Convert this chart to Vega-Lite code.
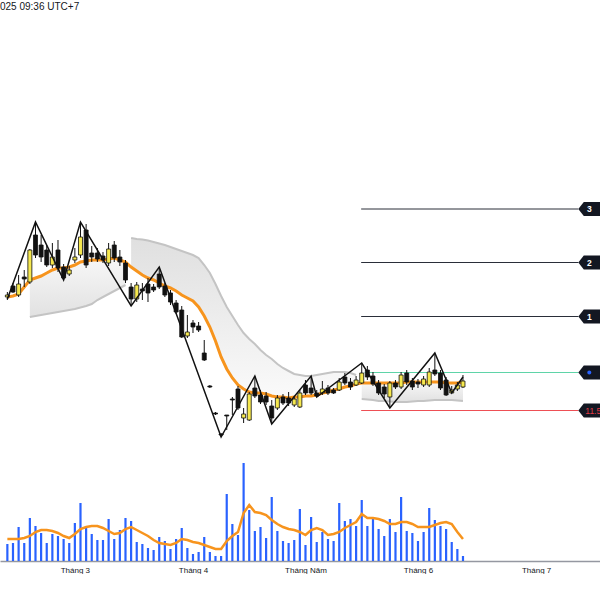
{
  "$schema": "https://vega.github.io/schema/vega-lite/v6.json",
  "width": 600,
  "height": 543,
  "padding": {"left": 0, "right": 0, "top": 2, "bottom": 0},
  "background": "white",
  "title": {"text": "025 09:36 UTC+7", "anchor": "start", "fontSize": 10, "fontWeight": "normal", "font": "Liberation Sans", "color": "#131722", "offset": 6},
  "config": {
    "view": {"stroke": null},
    "axisX": {"ticks": false, "grid": false, "domainColor": "#9598a1", "domainWidth": 1.5, "labelFontSize": 8, "labelFont": "Liberation Sans", "labelColor": "#131722", "labelPadding": 5, "labelFlush": false}
  },
  "datasets": {
    "d": [
      {"i":0,"o":13.84,"h":13.94,"l":13.78,"c":13.88,"ma":13.84,"vol":17,"vma":22},
      {"i":1,"o":14.06,"h":14.12,"l":13.92,"c":13.94,"ma":13.86,"vol":18,"vma":22},
      {"i":2,"o":13.88,"h":14.28,"l":13.84,"c":14.10,"ma":13.90,"vol":34,"vma":22},
      {"i":3,"o":14.24,"h":14.38,"l":14.04,"c":14.20,"ma":14.04,"vol":18,"vma":23},
      {"i":4,"o":14.14,"h":14.80,"l":14.10,"c":14.78,"ma":14.18,"g":13.44,"seg":"A","vol":43,"vma":25},
      {"i":5,"o":15.08,"h":15.34,"l":14.62,"c":14.68,"ma":14.22,"g":13.46,"seg":"A","vol":35,"vma":29},
      {"i":6,"o":14.88,"h":15.08,"l":14.54,"c":14.64,"ma":14.26,"g":13.48,"seg":"A","vol":28,"vma":31},
      {"i":7,"o":14.78,"h":14.88,"l":14.44,"c":14.48,"ma":14.32,"g":13.50,"seg":"A","vol":18,"vma":31},
      {"i":8,"o":14.48,"h":14.92,"l":14.42,"c":14.64,"ma":14.38,"g":13.52,"seg":"A","vol":27,"vma":30},
      {"i":9,"o":14.78,"h":14.98,"l":14.34,"c":14.42,"ma":14.42,"g":13.54,"seg":"A","vol":25,"vma":28},
      {"i":10,"o":14.44,"h":14.50,"l":14.18,"c":14.22,"ma":14.42,"g":13.56,"seg":"A","vol":22,"vma":25},
      {"i":11,"o":14.30,"h":14.46,"l":14.26,"c":14.38,"ma":14.44,"g":13.58,"seg":"A","vol":18,"vma":23},
      {"i":12,"o":14.58,"h":14.82,"l":14.52,"c":14.64,"ma":14.48,"g":13.60,"seg":"A","vol":38,"vma":27},
      {"i":13,"o":14.68,"h":15.34,"l":14.62,"c":15.04,"ma":14.54,"g":13.63,"seg":"A","vol":58,"vma":32},
      {"i":14,"o":15.18,"h":15.30,"l":14.42,"c":14.48,"ma":14.56,"g":13.66,"seg":"A","vol":33,"vma":34},
      {"i":15,"o":14.72,"h":14.86,"l":14.54,"c":14.64,"ma":14.58,"g":13.70,"seg":"A","vol":27,"vma":35},
      {"i":16,"o":14.72,"h":14.82,"l":14.54,"c":14.60,"ma":14.58,"g":13.78,"seg":"A","vol":21,"vma":35},
      {"i":17,"o":14.66,"h":14.74,"l":14.52,"c":14.58,"ma":14.58,"g":13.84,"seg":"A","vol":21,"vma":33},
      {"i":18,"o":14.52,"h":14.92,"l":14.46,"c":14.80,"ma":14.60,"g":13.90,"seg":"A","vol":42,"vma":30},
      {"i":19,"o":14.88,"h":14.96,"l":14.54,"c":14.62,"ma":14.62,"g":13.96,"seg":"A","vol":22,"vma":27},
      {"i":20,"o":14.64,"h":14.78,"l":14.46,"c":14.54,"ma":14.58,"g":14.02,"seg":"A","vol":31,"vma":28},
      {"i":21,"o":14.52,"h":14.58,"l":14.12,"c":14.18,"ma":14.54,"g":14.08,"seg":"A","vol":43,"vma":32},
      {"i":22,"o":14.04,"h":14.12,"l":13.66,"c":13.80,"ma":14.44,"g":15.02,"seg":"B","vol":40,"vma":34},
      {"i":23,"o":13.80,"h":14.14,"l":13.74,"c":14.08,"ma":14.36,"g":15.00,"seg":"B","vol":19,"vma":31},
      {"i":24,"o":14.00,"h":14.12,"l":13.78,"c":13.96,"ma":14.28,"g":14.99,"seg":"B","vol":17,"vma":28},
      {"i":25,"o":14.10,"h":14.22,"l":13.74,"c":13.92,"ma":14.22,"g":14.97,"seg":"B","vol":13,"vma":25},
      {"i":26,"o":14.04,"h":14.10,"l":13.94,"c":13.98,"ma":14.18,"g":14.94,"seg":"B","vol":11,"vma":21},
      {"i":27,"o":14.30,"h":14.44,"l":14.00,"c":14.04,"ma":14.12,"g":14.91,"seg":"B","vol":24,"vma":18},
      {"i":28,"o":14.06,"h":14.12,"l":13.84,"c":13.88,"ma":14.06,"g":14.88,"seg":"B","vol":20,"vma":17},
      {"i":29,"o":13.92,"h":13.98,"l":13.68,"c":13.74,"ma":14.02,"g":14.84,"seg":"B","vol":12,"vma":16},
      {"i":30,"o":13.72,"h":13.78,"l":13.50,"c":13.54,"ma":13.96,"g":14.80,"seg":"B","vol":22,"vma":18},
      {"i":31,"o":13.58,"h":13.66,"l":13.02,"c":13.04,"ma":13.88,"g":14.76,"seg":"B","vol":33,"vma":22},
      {"i":32,"o":13.06,"h":13.48,"l":13.02,"c":13.14,"ma":13.82,"g":14.72,"seg":"B","vol":13,"vma":21},
      {"i":33,"o":13.32,"h":13.38,"l":13.12,"c":13.24,"ma":13.76,"g":14.68,"seg":"B","vol":7,"vma":19},
      {"i":34,"o":13.26,"h":13.34,"l":13.14,"c":13.18,"ma":13.64,"g":14.62,"seg":"B","vol":9,"vma":18},
      {"i":35,"o":12.72,"h":12.98,"l":12.56,"c":12.58,"ma":13.46,"g":14.48,"seg":"B","vol":24,"vma":16},
      {"i":36,"o":12.06,"h":12.08,"l":12.02,"c":12.04,"ma":13.24,"g":14.32,"seg":"B","vol":9,"vma":14},
      {"i":37,"o":11.52,"h":11.54,"l":11.48,"c":11.50,"ma":12.96,"g":14.10,"seg":"B","vol":5,"vma":12},
      {"i":38,"o":11.10,"h":11.12,"l":11.04,"c":11.08,"ma":12.64,"g":13.86,"seg":"B","vol":5,"vma":12},
      {"i":39,"o":11.48,"h":11.48,"l":11.18,"c":11.46,"ma":12.40,"g":13.64,"seg":"B","vol":67,"vma":20},
      {"i":40,"o":11.80,"h":11.84,"l":11.48,"c":11.78,"ma":12.22,"g":13.46,"seg":"B","vol":37,"vma":25},
      {"i":41,"o":12.00,"h":12.06,"l":11.58,"c":11.62,"ma":12.08,"g":13.28,"seg":"B","vol":26,"vma":29},
      {"i":42,"o":11.42,"h":11.62,"l":11.32,"c":11.50,"ma":12.00,"g":13.12,"seg":"B","vol":98,"vma":48},
      {"i":43,"o":11.38,"h":11.94,"l":11.36,"c":11.90,"ma":11.94,"g":13.00,"seg":"B","vol":51,"vma":56},
      {"i":44,"o":12.02,"h":12.26,"l":11.82,"c":11.86,"ma":11.92,"g":12.90,"seg":"B","vol":30,"vma":49},
      {"i":45,"o":11.88,"h":11.98,"l":11.70,"c":11.74,"ma":11.92,"g":12.78,"seg":"B","vol":34,"vma":48},
      {"i":46,"o":11.86,"h":11.94,"l":11.68,"c":11.74,"ma":11.90,"g":12.68,"seg":"B","vol":23,"vma":46},
      {"i":47,"o":11.66,"h":11.78,"l":11.30,"c":11.42,"ma":11.86,"g":12.60,"seg":"B","vol":64,"vma":41},
      {"i":48,"o":11.62,"h":11.88,"l":11.58,"c":11.82,"ma":11.84,"g":12.50,"seg":"B","vol":30,"vma":37},
      {"i":49,"o":11.84,"h":11.90,"l":11.68,"c":11.72,"ma":11.84,"g":12.42,"seg":"B","vol":20,"vma":34},
      {"i":50,"o":11.82,"h":11.94,"l":11.66,"c":11.72,"ma":11.82,"g":12.36,"seg":"B","vol":18,"vma":32},
      {"i":51,"o":11.68,"h":11.86,"l":11.64,"c":11.80,"ma":11.84,"g":12.30,"seg":"B","vol":21,"vma":31},
      {"i":52,"o":11.64,"h":11.98,"l":11.62,"c":11.92,"ma":11.84,"g":12.28,"seg":"B","vol":52,"vma":29},
      {"i":53,"o":12.08,"h":12.18,"l":11.88,"c":11.92,"ma":11.86,"g":12.26,"seg":"B","vol":16,"vma":26},
      {"i":54,"o":12.02,"h":12.26,"l":11.88,"c":11.92,"ma":11.86,"g":12.26,"seg":"B","vol":44,"vma":31},
      {"i":55,"o":11.92,"h":11.98,"l":11.84,"c":11.86,"ma":11.88,"g":12.28,"seg":"B","vol":19,"vma":33},
      {"i":56,"o":11.92,"h":12.16,"l":11.88,"c":12.00,"ma":11.92,"g":12.30,"seg":"B","vol":29,"vma":31},
      {"i":57,"o":12.02,"h":12.08,"l":11.88,"c":11.92,"ma":11.94,"g":12.32,"seg":"B","vol":22,"vma":26},
      {"i":58,"o":11.98,"h":12.02,"l":11.90,"c":11.92,"ma":11.98,"g":12.34,"seg":"B","vol":20,"vma":27},
      {"i":59,"o":11.98,"h":12.22,"l":11.96,"c":12.14,"ma":12.00,"g":12.34,"seg":"B","vol":58,"vma":29},
      {"i":60,"o":12.24,"h":12.32,"l":12.08,"c":12.12,"ma":12.04,"g":12.34,"seg":"B","vol":40,"vma":33},
      {"i":61,"o":12.14,"h":12.22,"l":11.98,"c":12.04,"ma":12.06,"g":12.32,"seg":"B","vol":42,"vma":36},
      {"i":62,"o":12.08,"h":12.26,"l":12.06,"c":12.18,"ma":12.10,"g":12.28,"seg":"B","vol":35,"vma":39},
      {"i":63,"o":12.12,"h":12.52,"l":12.10,"c":12.32,"ma":12.12,"g":11.80,"seg":"C","vol":61,"vma":47},
      {"i":64,"o":12.38,"h":12.46,"l":12.18,"c":12.24,"ma":12.12,"g":11.79,"seg":"C","vol":35,"vma":43},
      {"i":65,"o":12.26,"h":12.34,"l":12.06,"c":12.10,"ma":12.12,"g":11.78,"seg":"C","vol":42,"vma":43},
      {"i":66,"o":12.12,"h":12.18,"l":11.88,"c":11.92,"ma":12.12,"g":11.76,"seg":"C","vol":32,"vma":42},
      {"i":67,"o":12.04,"h":12.10,"l":11.82,"c":11.90,"ma":12.12,"g":11.76,"seg":"C","vol":25,"vma":40},
      {"i":68,"o":11.84,"h":12.16,"l":11.62,"c":12.12,"ma":12.12,"g":11.75,"seg":"C","vol":42,"vma":37},
      {"i":69,"o":12.12,"h":12.18,"l":12.00,"c":12.04,"ma":12.12,"g":11.74,"seg":"C","vol":29,"vma":37},
      {"i":70,"o":12.04,"h":12.34,"l":12.00,"c":12.28,"ma":12.12,"g":11.74,"seg":"C","vol":64,"vma":39},
      {"i":71,"o":12.32,"h":12.38,"l":12.08,"c":12.14,"ma":12.14,"g":11.74,"seg":"C","vol":30,"vma":39},
      {"i":72,"o":12.16,"h":12.22,"l":11.98,"c":12.04,"ma":12.14,"g":11.75,"seg":"C","vol":28,"vma":37},
      {"i":73,"o":12.14,"h":12.20,"l":12.02,"c":12.10,"ma":12.14,"g":11.76,"seg":"C","vol":20,"vma":34},
      {"i":74,"o":12.08,"h":12.26,"l":12.04,"c":12.20,"ma":12.14,"g":11.76,"seg":"C","vol":29,"vma":34},
      {"i":75,"o":12.08,"h":12.42,"l":12.04,"c":12.34,"ma":12.14,"g":11.77,"seg":"C","vol":53,"vma":34},
      {"i":76,"o":12.38,"h":12.72,"l":12.26,"c":12.30,"ma":12.14,"g":11.78,"seg":"C","vol":41,"vma":36},
      {"i":77,"o":12.32,"h":12.38,"l":11.98,"c":12.02,"ma":12.14,"g":11.78,"seg":"C","vol":35,"vma":38},
      {"i":78,"o":12.18,"h":12.24,"l":11.86,"c":11.88,"ma":12.12,"g":11.78,"seg":"C","vol":32,"vma":39},
      {"i":79,"o":11.92,"h":12.06,"l":11.92,"c":11.98,"ma":12.12,"g":11.78,"seg":"C","vol":19,"vma":37},
      {"i":80,"o":12.00,"h":12.14,"l":11.96,"c":12.08,"ma":12.12,"g":11.77,"seg":"C","vol":12,"vma":29},
      {"i":81,"o":12.04,"h":12.28,"l":12.02,"c":12.16,"ma":12.14,"g":11.76,"seg":"C","vol":5,"vma":22}
    ],
    "zz": [
      {"i":0,"p":13.80},{"i":5,"p":15.34},{"i":10,"p":14.18},{"i":13,"p":15.34},
      {"i":22,"p":13.66},{"i":27,"p":14.44},{"i":38,"p":11.04},{"i":44,"p":12.26},
      {"i":47,"p":11.30},{"i":54,"p":12.26},{"i":55,"p":11.84},{"i":63,"p":12.52},
      {"i":68,"p":11.62},{"i":76,"p":12.72},{"i":79,"p":11.92},{"i":81,"p":12.24}
    ],
    "lv": [
      {"k":"t3","p":15.60,"a":62.9,"b":101.5,"txt":"3"},
      {"k":"t2","p":14.53,"a":62.9,"b":101.5,"txt":"2"},
      {"k":"t1","p":13.45,"a":62.9,"b":101.5,"txt":"1"},
      {"k":"en","p":12.33,"a":63.5,"b":101.5,"txt":""},
      {"k":"sl","p":11.57,"a":62.9,"b":101.5,"txt":"11.57"}
    ]
  },
  "resolve": {"scale": {"y": "independent"}},
  "encoding": {
    "x": {"field": "i", "type": "quantitative", "scale": {"domain": [-0.42, 104.47], "nice": false, "zero": false},
      "axis": {"values": [12, 33, 53, 73, 94], "labelExpr": "datum.value == 12 ? 'Tháng 3' : datum.value == 33 ? 'Tháng 4' : datum.value == 53 ? 'Tháng Năm' : datum.value == 73 ? 'Tháng 6' : 'Tháng 7'", "title": null}}
  },
  "layer": [
    {
      "data": {"name": "d"},
      "mark": {"type": "bar", "size": 2.2, "color": "#2962ff"},
      "encoding": {
        "y": {"field": "vol", "type": "quantitative", "scale": {"domain": [0, 543], "nice": false, "zero": true}, "axis": null}
      }
    },
    {
      "data": {"name": "d"},
      "mark": {"type": "line", "color": "#f7941d", "strokeWidth": 2.5},
      "encoding": {
        "y": {"field": "vma", "type": "quantitative", "scale": {"domain": [0, 543], "nice": false, "zero": true}, "axis": null}
      }
    },
    {
      "data": {"name": "d"},
      "transform": [{"filter": "isValid(datum.g) && datum.seg == 'B'"}],
      "mark": {"type": "area", "color": {"gradient": "linear", "x1": 0, "y1": 0, "x2": 0, "y2": 1, "stops": [{"offset": 0, "color": "#dadada"}, {"offset": 1, "color": "#f9f9f9"}]}, "opacity": 0.85},
      "encoding": {
        "y": {"field": "g", "type": "quantitative", "stack": null, "scale": {"domain": [8.56, 19.42], "nice": false, "zero": false}, "axis": null},
        "y2": {"field": "ma"},
        "detail": {"field": "seg"}
      }
    },
    {
      "data": {"name": "d"},
      "transform": [{"filter": "isValid(datum.g) && datum.seg != 'B'"}],
      "mark": {"type": "area", "color": {"gradient": "linear", "x1": 0, "y1": 0, "x2": 0, "y2": 1, "stops": [{"offset": 0, "color": "#f6f6f6"}, {"offset": 1, "color": "#dcdcdc"}]}, "opacity": 0.85},
      "encoding": {
        "y": {"field": "g", "type": "quantitative", "stack": null, "scale": {"domain": [8.56, 19.42], "nice": false, "zero": false}, "axis": null},
        "y2": {"field": "ma"},
        "detail": {"field": "seg"}
      }
    },
    {
      "data": {"name": "d"},
      "transform": [{"filter": "isValid(datum.g)"}],
      "mark": {"type": "line", "color": "#c4c4c4", "strokeWidth": 2},
      "encoding": {
        "y": {"field": "g", "type": "quantitative", "scale": {"domain": [8.56, 19.42], "nice": false, "zero": false}, "axis": null},
        "detail": {"field": "seg"}
      }
    },
    {
      "data": {"name": "lv"},
      "mark": {"type": "rule", "strokeWidth": 1},
      "encoding": {
        "x": {"field": "a", "type": "quantitative"},
        "x2": {"field": "b"},
        "y": {"field": "p", "type": "quantitative", "scale": {"domain": [8.56, 19.42], "nice": false, "zero": false}, "axis": null},
        "color": {"field": "k", "type": "nominal", "legend": null, "scale": {"domain": ["t3", "t2", "t1", "en", "sl"], "range": ["#2a2e39", "#2a2e39", "#2a2e39", "#5fd4a8", "#ee4f55"]}}
      }
    },
    {
      "data": {"name": "d"},
      "mark": {"type": "line", "color": "#f7941d", "strokeWidth": 3},
      "encoding": {
        "y": {"field": "ma", "type": "quantitative", "scale": {"domain": [8.56, 19.42], "nice": false, "zero": false}, "axis": null}
      }
    },
    {
      "data": {"name": "d"},
      "mark": {"type": "rule", "color": "#111111", "strokeWidth": 1},
      "encoding": {
        "y": {"field": "l", "type": "quantitative", "scale": {"domain": [8.56, 19.42], "nice": false, "zero": false}, "axis": null},
        "y2": {"field": "h"}
      }
    },
    {
      "data": {"name": "d"},
      "mark": {"type": "bar", "size": 4, "stroke": "#111111", "strokeWidth": 0.8},
      "encoding": {
        "y": {"field": "o", "type": "quantitative", "stack": null, "scale": {"domain": [8.56, 19.42], "nice": false, "zero": false}, "axis": null},
        "y2": {"field": "c"},
        "fill": {"condition": {"test": "datum.c >= datum.o", "value": "#f6e84e"}, "value": "#111111"}
      }
    },
    {
      "data": {"name": "zz"},
      "mark": {"type": "line", "color": "#111111", "strokeWidth": 1.5},
      "encoding": {
        "y": {"field": "p", "type": "quantitative", "scale": {"domain": [8.56, 19.42], "nice": false, "zero": false}, "axis": null}
      }
    },
    {
      "data": {"name": "lv"},
      "mark": {"type": "point", "shape": "M 0 0 L 0.55 -0.7 L 2.6 -0.7 L 2.6 0.7 L 0.55 0.7 Z", "filled": true, "color": "#131722", "opacity": 1, "size": 400, "clip": true},
      "encoding": {
        "x": {"field": "b", "type": "quantitative"},
        "y": {"field": "p", "type": "quantitative", "scale": {"domain": [8.56, 19.42], "nice": false, "zero": false}, "axis": null}
      }
    },
    {
      "data": {"name": "lv"},
      "transform": [{"filter": "datum.k == 't1' || datum.k == 't2' || datum.k == 't3'"}],
      "mark": {"type": "text", "color": "#ffffff", "font": "Liberation Sans", "fontWeight": "bold", "fontSize": 8.5, "align": "center", "baseline": "middle", "dx": 11, "clip": true},
      "encoding": {
        "x": {"field": "b", "type": "quantitative"},
        "y": {"field": "p", "type": "quantitative", "scale": {"domain": [8.56, 19.42], "nice": false, "zero": false}, "axis": null},
        "text": {"field": "txt"}
      }
    },
    {
      "data": {"name": "lv"},
      "transform": [{"filter": "datum.k == 'en'"}],
      "mark": {"type": "point", "shape": "M 1.8 0 A 0.4 0.4 0 1 1 2.6 0 A 0.4 0.4 0 1 1 1.8 0 Z", "filled": true, "color": "#2962ff", "opacity": 1, "size": 100, "clip": true},
      "encoding": {
        "x": {"field": "b", "type": "quantitative"},
        "y": {"field": "p", "type": "quantitative", "scale": {"domain": [8.56, 19.42], "nice": false, "zero": false}, "axis": null}
      }
    },
    {
      "data": {"name": "lv"},
      "transform": [{"filter": "datum.k == 'sl'"}],
      "mark": {"type": "text", "color": "#e03a45", "font": "Liberation Sans", "fontSize": 8.5, "align": "left", "baseline": "middle", "dx": 7, "clip": true},
      "encoding": {
        "x": {"field": "b", "type": "quantitative"},
        "y": {"field": "p", "type": "quantitative", "scale": {"domain": [8.56, 19.42], "nice": false, "zero": false}, "axis": null},
        "text": {"field": "txt"}
      }
    }
  ]
}
